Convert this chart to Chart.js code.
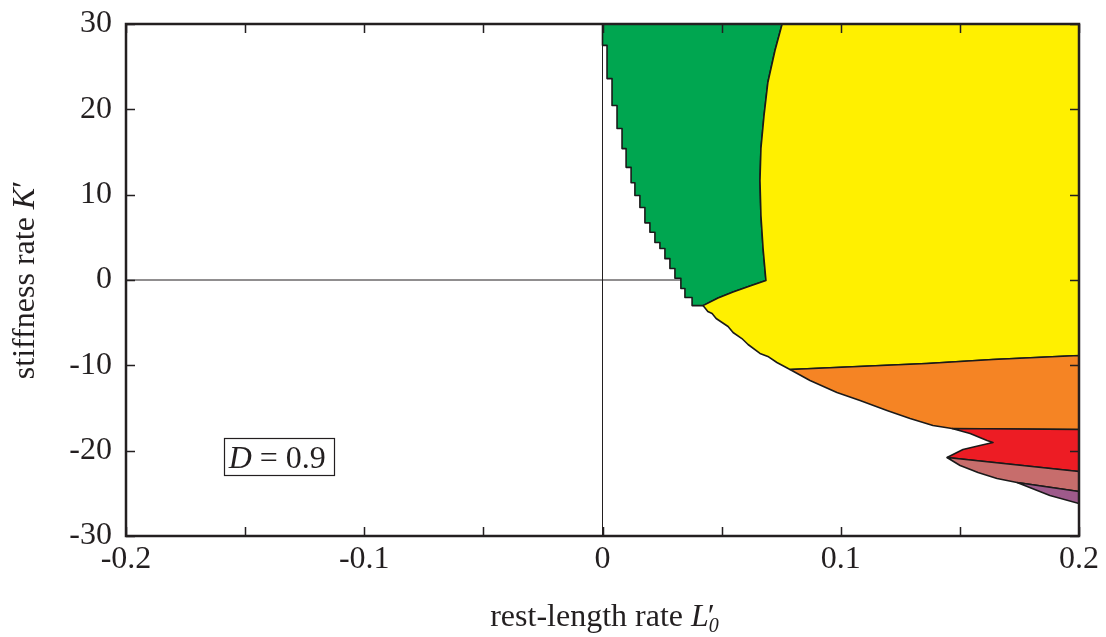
<!DOCTYPE html>
<html>
<head>
<meta charset="utf-8">
<script src="https://cdn.jsdelivr.net/npm/chart.js@4.4.1/dist/chart.umd.min.js"></script>
<style>
html,body{margin:0;padding:0;background:#fff;}
#wrap{width:1106px;height:637px;position:relative;}
</style>
</head>
<body>
<div id="wrap"><canvas id="c" width="1106" height="637"></canvas></div>
<script>
// ---- data ----
const xTickLabels = [-0.2, -0.1, 0, 0.1, 0.2];
const xTickMarks = [-0.2, -0.15, -0.1, -0.05, 0, 0.05, 0.1, 0.15, 0.2];
const yTickLabels = [-30, -20, -10, 0, 10, 20, 30];

const greenX = [0, 0, 0.0019, 0.0019, 0.0040, 0.0040, 0.0061, 0.0061, 0.0082, 0.0082, 0.0099, 0.0099, 0.0120, 0.0120, 0.0136, 0.0136, 0.0157, 0.0157, 0.0178, 0.0178, 0.0199, 0.0199, 0.0220, 0.0220, 0.0241, 0.0241, 0.0262, 0.0262, 0.0283, 0.0283, 0.0304, 0.0304, 0.0329, 0.0329, 0.0346, 0.0346, 0.0376, 0.0376, 0.0422, 0.0485, 0.0548, 0.0619, 0.0686, 0.0674, 0.0665, 0.0661, 0.0665, 0.0678, 0.0694, 0.0724, 0.0754, 0];
const greenY = [30, 27.5, 27.5, 23.6, 23.6, 20.45, 20.45, 17.75, 17.75, 15.4, 15.4, 13.2, 13.2, 11.4, 11.4, 9.9, 9.9, 8.5, 8.5, 6.7, 6.7, 5.6, 5.6, 4.4, 4.4, 3.7, 3.7, 2.5, 2.5, 1.35, 1.35, 0.2, 0.2, -1.0, -1.0, -2.05, -2.05, -3.0, -3.0, -2.11, -1.41, -0.70, -0.06, 3.69, 7.56, 11.66, 15.41, 19.28, 23.14, 26.9, 30, 30];

const yellowX = [0.0754, 0.2, 0.2, 0.1639, 0.1362, 0.0787, 0.0732, 0.0694, 0.0661, 0.0611, 0.0585, 0.0548, 0.0527, 0.0502, 0.0477, 0.0460, 0.0442, 0.0422, 0.0485, 0.0548, 0.0619, 0.0686, 0.0674, 0.0665, 0.0661, 0.0665, 0.0678, 0.0694, 0.0724, 0.0754];
const yellowY = [30, 30, -8.85, -9.32, -9.79, -10.49, -9.67, -8.96, -8.61, -7.56, -6.86, -6.15, -5.45, -4.98, -4.51, -3.93, -3.69, -3.0, -2.11, -1.41, -0.70, -0.06, 3.69, 7.56, 11.66, 15.41, 19.28, 23.14, 26.9, 30];

const orangeX = [0.0787, 0.1362, 0.1639, 0.2, 0.2, 0.1467, 0.1387, 0.1291, 0.1194, 0.1081, 0.0984, 0.0871, 0.0787];
const orangeY = [-10.49, -9.79, -9.32, -8.85, -17.52, -17.40, -17.05, -16.23, -15.29, -14.12, -13.18, -11.77, -10.49];

const redX = [0.1467, 0.2, 0.2, 0.1446, 0.1513, 0.1584, 0.1639, 0.1614, 0.1543, 0.1467];
const redY = [-17.40, -17.52, -22.44, -20.80, -19.86, -19.40, -19.04, -18.81, -17.99, -17.40];

const mauveX = [0.1446, 0.2, 0.2, 0.1740, 0.1656, 0.1576, 0.1555, 0.1501, 0.1446];
const mauveY = [-20.80, -22.44, -24.79, -23.73, -23.26, -22.56, -22.32, -21.74, -20.80];

const purpleX = [0.1740, 0.2, 0.2, 0.1878, 0.1740];
const purpleY = [-23.73, -24.79, -26.19, -25.26, -23.73];

const cornerMarkX = [-0.2, -0.2];
const cornerMarkY = [30, 29];

const hAxisX = [-0.2, 0.2];
const hAxisY = [0, 0];
const vAxisX = [0, 0];
const vAxisY = [-30, 30];

// ---- helpers ----
const pts = (xs, ys) => xs.map((x, i) => ({x: x, y: ys[i]}));
function region(xs, ys, color) {
  return {data: pts(xs, ys), showLine: true, fill: 'shape', backgroundColor: color,
    borderColor: '#1a1a1a', borderWidth: 1.6, pointRadius: 0, tension: 0, borderJoinStyle: 'round'};
}
function line(xs, ys, color, w) {
  return {data: pts(xs, ys), showLine: true, fill: false, borderColor: color,
    borderWidth: w, pointRadius: 0, tension: 0};
}

const SERIF = '"Liberation Serif", "DejaVu Serif", serif';
const FS = 32;

const framePlugin = {
  id: 'frame',
  afterDraw(chart) {
    const {ctx, chartArea: a, scales: {x, y}} = chart;
    ctx.save();
    ctx.strokeStyle = '#231f20';
    ctx.lineWidth = 1.5;
    ctx.beginPath();
    xTickMarks.forEach(v => {
      const px = Math.round(x.getPixelForValue(v)) + 0.5;
      ctx.moveTo(px, a.bottom); ctx.lineTo(px, a.bottom - 9);
      ctx.moveTo(px, a.top); ctx.lineTo(px, a.top + 9);
    });
    yTickLabels.forEach(v => {
      const py = Math.round(y.getPixelForValue(v)) + 0.5;
      ctx.moveTo(a.left, py); ctx.lineTo(a.left + 9, py);
      ctx.moveTo(a.right, py); ctx.lineTo(a.right - 9, py);
    });
    ctx.stroke();
    ctx.lineWidth = 2.5;
    ctx.strokeRect(a.left, a.top, a.right - a.left, a.bottom - a.top);

    // D = 0.9 box
    const bx = x.getPixelForValue(-0.1590), by = y.getPixelForValue(-18.5);
    ctx.lineWidth = 1.2;
    ctx.strokeRect(Math.round(bx) + 0.5, Math.round(by) + 0.5, 110, 37);
    ctx.fillStyle = '#231f20';
    ctx.textBaseline = 'alphabetic';
    ctx.textAlign = 'left';
    ctx.font = 'italic ' + FS + 'px ' + SERIF;
    ctx.fillText('D', bx + 5, by + 30);
    const dw = ctx.measureText('D').width;
    ctx.font = FS + 'px ' + SERIF;
    ctx.fillText(' = 0.9', bx + 5 + dw, by + 30);

    // x axis title
    const cx = (a.left + a.right) / 2;
    const parts = [['rest-length rate ', FS + 'px ' + SERIF, 0], ['L', 'italic ' + FS + 'px ' + SERIF, 0], ['0', 'italic 20px ' + SERIF, 6], ['\u2032', FS + 'px ' + SERIF, 0]];
    let tw = 0;
    parts.forEach(p => { ctx.font = p[1]; p.push(ctx.measureText(p[0]).width); tw += p[3]; });
    tw -= 11;
    let sx = cx - tw / 2;
    const base = 626;
    parts.forEach((p, i) => {
      ctx.font = p[1];
      let dx = sx;
      if (i === 3) dx -= 11;
      ctx.fillText(p[0], dx, base + p[2]);
      sx += (i === 3) ? p[3] - 11 : p[3];
    });

    // y axis title (rotated)
    ctx.save();
    ctx.translate(34, (a.top + a.bottom) / 2);
    ctx.rotate(-Math.PI / 2);
    const yparts = [['stiffness rate ', FS + 'px ' + SERIF], ['K', 'italic ' + FS + 'px ' + SERIF], ['\u2032', FS + 'px ' + SERIF]];
    let ytw = 0;
    yparts.forEach(p => { ctx.font = p[1]; p.push(ctx.measureText(p[0]).width); ytw += p[2]; });
    let ys = -ytw / 2;
    yparts.forEach(p => { ctx.font = p[1]; ctx.fillText(p[0], ys, 0); ys += p[2]; });
    ctx.restore();
    ctx.restore();
  }
};

new Chart(document.getElementById('c'), {
  type: 'scatter',
  data: {
    datasets: [
      line(cornerMarkX, cornerMarkY, '#ed1c24', 2),
      region(purpleX, purpleY, '#9e5a8b'),
      region(mauveX, mauveY, '#c76d6c'),
      region(redX, redY, '#ed1c24'),
      region(orangeX, orangeY, '#f58424'),
      region(yellowX, yellowY, '#fff000'),
      region(greenX, greenY, '#00a650'),
      line(hAxisX, hAxisY, '#231f20', 1),
      line(vAxisX, vAxisY, '#231f20', 1)
    ]
  },
  options: {
    responsive: false,
    animation: false,
    devicePixelRatio: 1,
    layout: {padding: {top: 24, right: 27, left: 0, bottom: 0}},
    plugins: {legend: {display: false}, tooltip: {enabled: false}},
    scales: {
      x: {
        type: 'linear', min: -0.2, max: 0.2,
        afterFit(s) { s.height = 101; s.paddingLeft = 0; s.paddingRight = 0; },
        afterBuildTicks(s) { s.ticks = xTickLabels.map(v => ({value: v})); },
        grid: {display: false, drawTicks: false},
        border: {display: false},
        ticks: {
          font: {family: SERIF, size: FS}, color: '#231f20', padding: 4,
          maxRotation: 0, autoSkip: false,
          callback: v => String(v)
        }
      },
      y: {
        type: 'linear', min: -30, max: 30,
        afterFit(s) { s.width = 126; s.paddingTop = 0; s.paddingBottom = 0; },
        afterBuildTicks(s) { s.ticks = yTickLabels.map(v => ({value: v})); },
        grid: {display: false, drawTicks: false},
        border: {display: false},
        ticks: {
          font: {family: SERIF, size: FS}, color: '#231f20', padding: 14,
          callback: v => String(v)
        }
      }
    }
  },
  plugins: [framePlugin]
});
</script>
</body>
</html>
